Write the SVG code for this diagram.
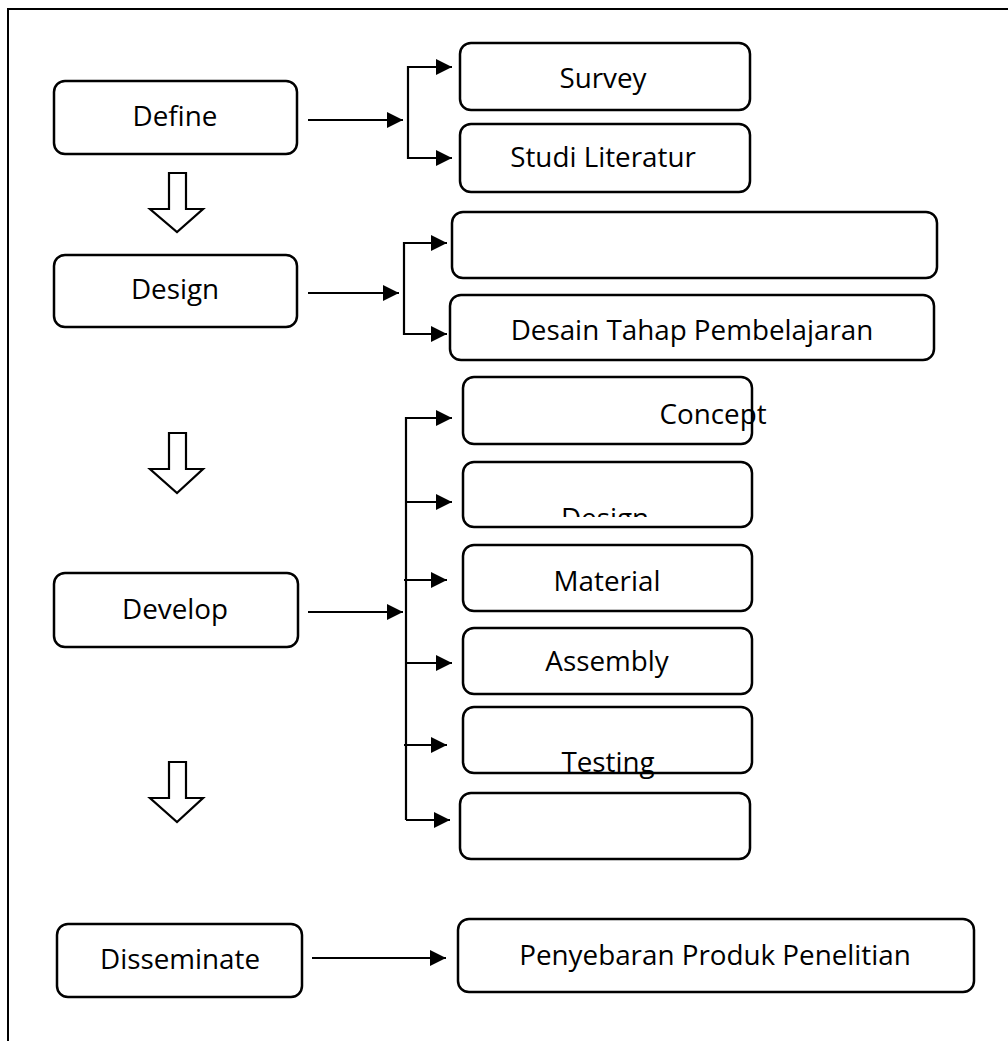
<svg xmlns="http://www.w3.org/2000/svg" width="1008" height="1041" viewBox="0 0 1008 1041">
<style>
.box{fill:#fff;stroke:#000;stroke-width:2.5}
.lbl{font-family:"Open Sans","Liberation Sans",sans-serif;font-size:27.8px;fill:#000;text-anchor:middle}
.con{fill:none;stroke:#000;stroke-width:2.2}
.big{fill:#fff;stroke:#000;stroke-width:2.2;stroke-linejoin:miter}
.frame{fill:none;stroke:#000;stroke-width:2}
</style>
<defs>
<marker id="ah" viewBox="0 0 16 16" refX="16" refY="8" markerWidth="16" markerHeight="16" markerUnits="userSpaceOnUse" orient="auto">
<path d="M0,0 L16,8 L0,16 z" fill="#000"/>
</marker>
<clipPath id="clipDesign"><rect x="463" y="462" width="289" height="55"/></clipPath>
</defs>
<rect width="1008" height="1041" fill="#fff"/>
<g id="frame">
<path class="frame" d="M8,1041 L8,9 L1008,9"/>
</g>
<g id="connectors">
<line class="con" x1="308" y1="120" x2="403" y2="120" marker-end="url(#ah)"/>
<path class="con" d="M452,67 L408,67 L408,158 L452,158"/>
<line class="con" x1="408" y1="67" x2="452" y2="67" marker-end="url(#ah)"/>
<line class="con" x1="408" y1="158" x2="452" y2="158" marker-end="url(#ah)"/>
<line class="con" x1="308" y1="293" x2="399" y2="293" marker-end="url(#ah)"/>
<path class="con" d="M447,243 L404,243 L404,334 L447,334"/>
<line class="con" x1="404" y1="243" x2="447" y2="243" marker-end="url(#ah)"/>
<line class="con" x1="404" y1="334" x2="447" y2="334" marker-end="url(#ah)"/>
<line class="con" x1="308" y1="612" x2="403" y2="612" marker-end="url(#ah)"/>
<path class="con" d="M406,417 L406,820"/>
<line class="con" x1="406" y1="418" x2="452" y2="418" marker-end="url(#ah)"/>
<line class="con" x1="406" y1="502" x2="452" y2="502" marker-end="url(#ah)"/>
<line class="con" x1="404" y1="580" x2="447" y2="580" marker-end="url(#ah)"/>
<line class="con" x1="406" y1="663" x2="452" y2="663" marker-end="url(#ah)"/>
<line class="con" x1="404" y1="745" x2="447" y2="745" marker-end="url(#ah)"/>
<line class="con" x1="406" y1="820" x2="450" y2="820" marker-end="url(#ah)"/>
<line class="con" x1="312" y1="958" x2="446" y2="958" marker-end="url(#ah)"/>
<polygon class="big" points="169,173 186,173 186,209 203,209 177,232 150,209 169,209"/>
<polygon class="big" points="169,433 186,433 186,469 203,469 177,493 150,469 169,469"/>
<polygon class="big" points="169,762 186,762 186,798 203,798 177,822 150,798 169,798"/>
</g>
<g id="node-define"><rect class="box" x="54" y="81" width="243" height="73" rx="11"/><text class="lbl" x="175" y="126">Define</text></g>
<g id="node-design"><rect class="box" x="54" y="255" width="243" height="72" rx="11"/><text class="lbl" x="175" y="299">Design</text></g>
<g id="node-develop"><rect class="box" x="54" y="573" width="244" height="74" rx="11"/><text class="lbl" x="175" y="619">Develop</text></g>
<g id="node-disseminate"><rect class="box" x="57" y="924" width="245" height="73" rx="11"/><text class="lbl" x="180" y="969">Disseminate</text></g>
<g id="node-survey"><rect class="box" x="460" y="43" width="290" height="67" rx="11"/><text class="lbl" x="603" y="88">Survey</text></g>
<g id="node-studi"><rect class="box" x="460" y="124" width="290" height="68" rx="11"/><text class="lbl" x="603" y="167">Studi Literatur</text></g>
<g id="node-empty1"><rect class="box" x="452" y="212" width="485" height="66" rx="11"/></g>
<g id="node-desain"><rect class="box" x="450" y="295" width="484" height="65" rx="11"/><text class="lbl" x="692" y="340">Desain Tahap Pembelajaran</text></g>
<g id="node-concept"><rect class="box" x="463" y="377" width="289" height="67" rx="11"/><text class="lbl" x="713" y="424">Concept</text></g>
<g id="node-design2"><rect class="box" x="463" y="462" width="289" height="65" rx="11"/><text class="lbl" x="605" y="528" clip-path="url(#clipDesign)">Design</text></g>
<g id="node-material"><rect class="box" x="463" y="545" width="289" height="66" rx="11"/><text class="lbl" x="607" y="591">Material</text></g>
<g id="node-assembly"><rect class="box" x="463" y="628" width="289" height="66" rx="11"/><text class="lbl" x="607" y="671">Assembly</text></g>
<g id="node-testing"><rect class="box" x="463" y="707" width="289" height="66" rx="11"/><text class="lbl" x="608" y="772">Testing</text></g>
<g id="node-empty2"><rect class="box" x="460" y="793" width="290" height="66" rx="11"/></g>
<g id="node-penyebaran"><rect class="box" x="458" y="919" width="516" height="73" rx="11"/><text class="lbl" x="715" y="965">Penyebaran Produk Penelitian</text></g>
</svg>
